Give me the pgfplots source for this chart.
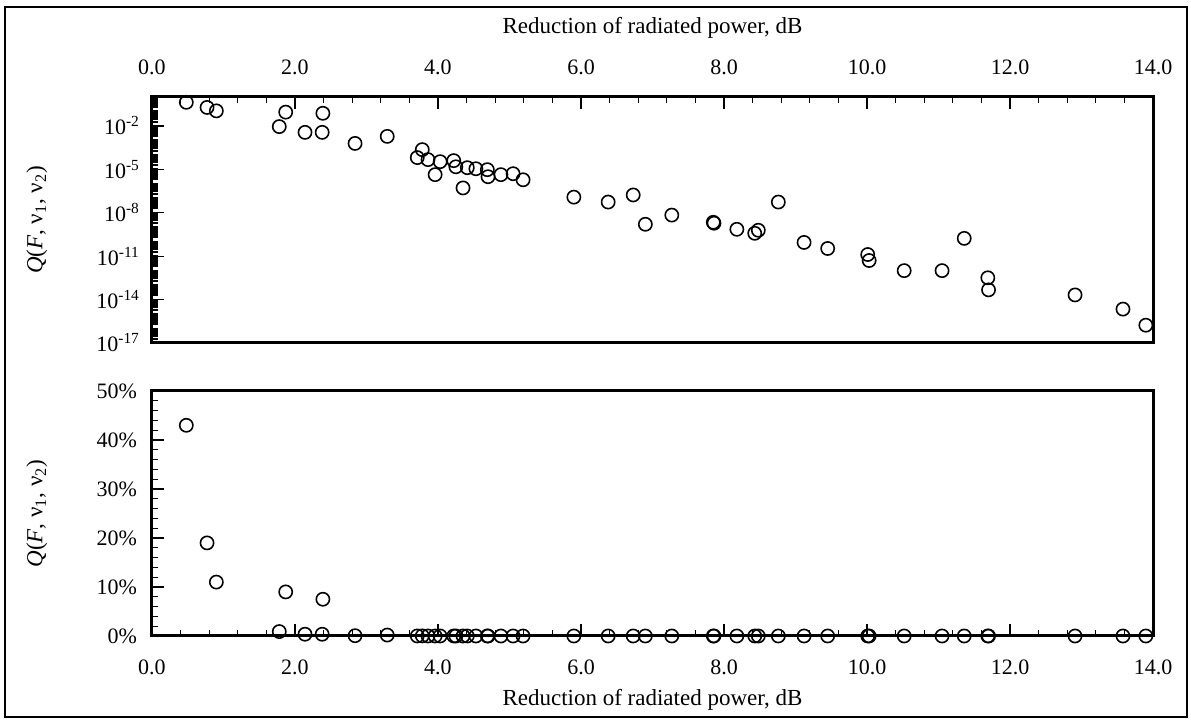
\documentclass[border=0pt]{standalone}
\usepackage{fontspec}
\setmainfont{Liberation Serif}
\usepackage{pgfplots}
\usepackage{pgfplotstable}
\pgfplotsset{compat=1.18}

% reduction of radiated power (dB) vs Q(F, v1, v2)
\pgfplotstableread{
x     q
0.48  0.43
0.77  0.19
0.90  0.11
1.87  0.09
1.78  0.009
2.14  3.6e-3
2.39  0.075
2.38  3.6e-3
2.84  6.2e-4
3.29  1.9e-3
3.78  2.3e-4
3.71  6.5e-5
3.86  4.7e-5
4.03  3.4e-5
3.96  4.3e-6
4.22  4.0e-5
4.25  1.5e-5
4.35  5.2e-7
4.41  1.3e-5
4.53  1.1e-5
4.69  9.5e-6
4.70  3.1e-6
4.88  4.3e-6
5.05  5.0e-6
5.19  1.9e-6
5.90  1.2e-7
6.38  5.5e-8
6.73  1.7e-7
6.90  1.6e-9
7.27  6.9e-9
7.85  2.2e-9
7.86  1.9e-9
8.18  7.2e-10
8.43  3.8e-10
8.48  6.2e-10
8.76  5.5e-8
9.12  8.9e-11
9.45  3.4e-11
10.01 1.3e-11
10.03 5.0e-12
10.52 1.0e-12
11.05 1.0e-12
11.36 1.7e-10
11.69 3.2e-13
11.70 4.7e-14
12.91 2.1e-14
13.58 2.2e-15
13.90 1.7e-16
}\qdata

% minor ticks of the log axis: every 1..9 x 10^k
\def\mlist{}
\foreach \k in {-17,...,-1}{\foreach \m in {1,...,9}{\xdef\mlist{\mlist\m e\k,}}}
\xdef\mlist{\mlist 1}

\pgfplotsset{
  qax/.style={
    scale only axis,
    width=500.5pt,
    xmin=0, xmax=14,
    xtick={0,2,...,14},
    minor x tick num=4,
    tick align=inside,
    major tick length=6pt,
    minor tick length=3pt,
    axis line style={line width=1.5pt},
    every tick/.style={black, line width=0.6pt},
    xticklabel style={/pgf/number format/.cd, fixed, fixed zerofill, precision=1, assume math mode=true},
    tick label style={font=\fontsize{11}{13}\selectfont},
    label style={font=\fontsize{11.5}{14}\selectfont},
    clip=false,
    ytick pos=left,
  },
  qmark/.style={only marks, mark=o, mark size=3.3pt, black, mark options={line width=0.8pt}},
}

\begin{document}
\begin{tikzpicture}
\useasboundingbox (0,0) rectangle (595.5pt,-360.5pt);
\draw[line width=1.2pt] (2.5pt,-3.5pt) rectangle (593.5pt,-358.5pt);

\begin{axis}[qax,
  at={(76pt,-48.5pt)}, anchor=north west,
  height=123pt,
  ymode=log, ymin=1e-17, ymax=1,
  ytick={1e-17,1e-14,1e-11,1e-8,1e-5,1e-2},
  yticklabels={10\textsuperscript{-17},10\textsuperscript{-14},10\textsuperscript{-11},10\textsuperscript{-8},10\textsuperscript{-5},10\textsuperscript{-2}},
  minor ytick/.expand once=\mlist,
  minor y tick style={line width=1pt},
  xtick pos=right, xticklabel pos=right,
  xticklabel shift=7.5pt,
  yticklabel shift=2.5pt,
  xlabel={Reduction of radiated power, dB},
  xlabel style={at={(axis description cs:0.5,1)}, anchor=center, yshift=34.5pt},
  ylabel={\textit{Q}(\textit{F}, ν\textsubscript{1}, ν\textsubscript{2})},
  ylabel style={at={(axis description cs:-0.115,0.5)}, anchor=center, rotate=0},
]
\addplot[qmark] table[x=x, y=q] {\qdata};
\end{axis}

\begin{axis}[qax,
  at={(76pt,-195.5pt)}, anchor=north west,
  height=122.5pt,
  ymin=0, ymax=50,
  ytick={0,10,...,50},
  minor y tick num=4,
  yticklabels={0\%,10\%,20\%,30\%,40\%,50\%},
  xtick pos=left, xticklabel pos=left,
  xticklabel shift=8.5pt,
  yticklabel shift=4pt,
  xlabel={Reduction of radiated power, dB},
  xlabel style={at={(axis description cs:0.5,0)}, anchor=center, yshift=-32pt},
  ylabel={\textit{Q}(\textit{F}, ν\textsubscript{1}, ν\textsubscript{2})},
  ylabel style={at={(axis description cs:-0.115,0.5)}, anchor=center, rotate=0},
]
\addplot[qmark] table[x=x, y expr=\thisrow{q}*100] {\qdata};
\end{axis}
\end{tikzpicture}
\end{document}
